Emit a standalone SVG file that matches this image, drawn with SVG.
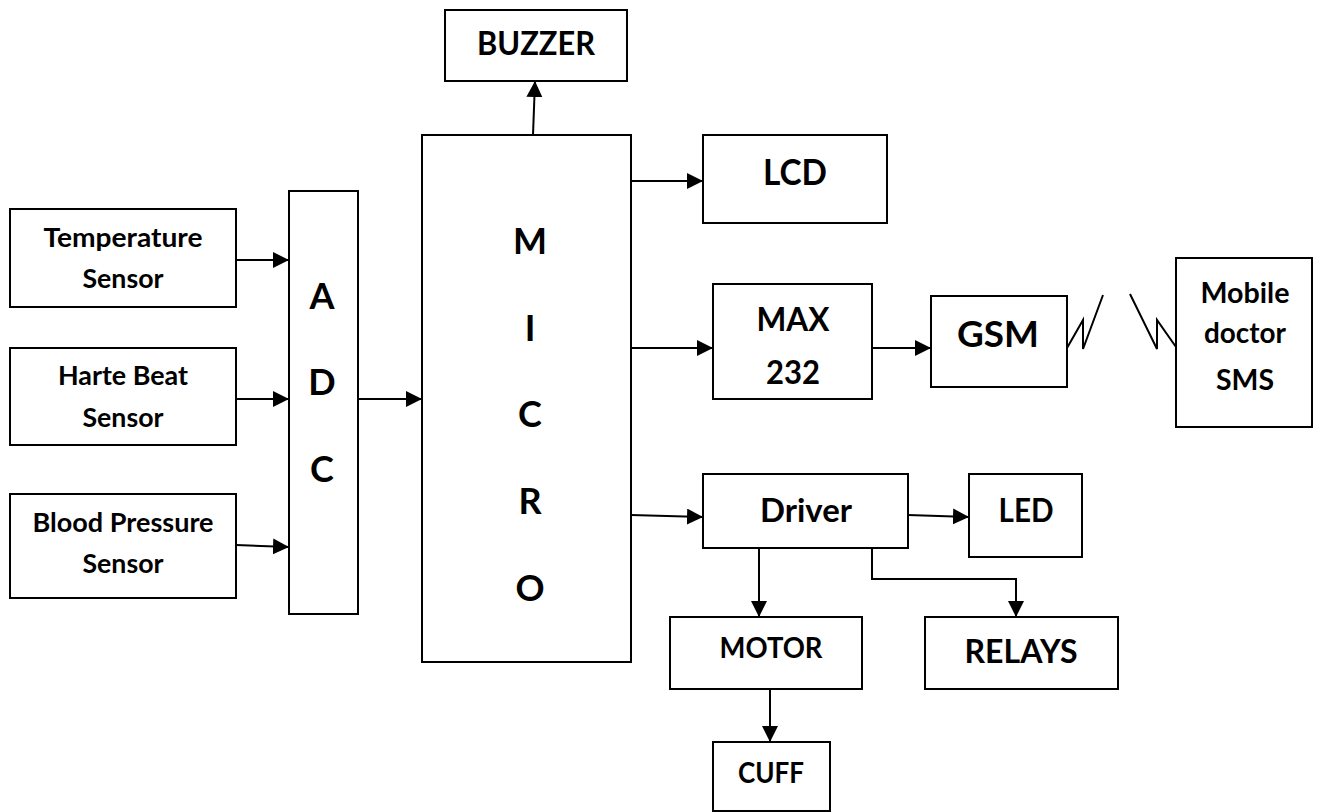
<svg xmlns="http://www.w3.org/2000/svg" width="1317" height="812" viewBox="0 0 1317 812">
<style>
rect{fill:#fff;stroke:#000;stroke-width:2}
text{font-family:Lato,"Open Sans","Liberation Sans",sans-serif;font-weight:bold;fill:#000;text-anchor:middle}
.c path,.c polyline,.c line{fill:none;stroke:#000;stroke-width:2}
.s{font-size:26px}.big{font-size:36px}.m{font-size:32px}.l{font-size:37px}.sm{font-size:28px}
</style>
<defs>
<marker id="ah" markerUnits="userSpaceOnUse" markerWidth="17" markerHeight="17" refX="16" refY="8" orient="auto">
<path d="M0,0 L16,8 L0,16 Z" fill="#000"/>
</marker>
</defs>
<rect x="0" y="0" width="1317" height="812" style="stroke:none"/>
<g id="temp"><rect x="10" y="209" width="226" height="98"/><text class="s" x="123" y="247" textLength="159" lengthAdjust="spacingAndGlyphs">Temperature</text><text class="s" x="123" y="288" textLength="81" lengthAdjust="spacingAndGlyphs">Sensor</text></g>
<g id="heart"><rect x="10" y="348" width="226" height="97"/><text class="s" x="123" y="385" textLength="130" lengthAdjust="spacingAndGlyphs">Harte Beat</text><text class="s" x="123" y="427" textLength="81" lengthAdjust="spacingAndGlyphs">Sensor</text></g>
<g id="bp"><rect x="10" y="494" width="226" height="104"/><text class="s" x="123" y="532" textLength="181" lengthAdjust="spacingAndGlyphs">Blood Pressure</text><text class="s" x="123" y="573" textLength="81" lengthAdjust="spacingAndGlyphs">Sensor</text></g>
<g id="adc"><rect x="289" y="191" width="69" height="423"/><text class="big" x="322" y="309">A</text><text class="big" x="322" y="395">D</text><text class="big" x="322" y="482">C</text></g>
<g id="micro"><rect x="422" y="135" width="209" height="527"/><text class="big" x="530" y="254">M</text><text class="big" x="530" y="341">I</text><text class="big" x="530" y="427">C</text><text class="big" x="530" y="514">R</text><text class="big" x="530" y="601">O</text></g>
<g id="buzzer"><rect x="445" y="10" width="182" height="71"/><text class="m" x="536" y="55" textLength="118" lengthAdjust="spacingAndGlyphs">BUZZER</text></g>
<g id="lcd"><rect x="703" y="135" width="184" height="88"/><text class="l" x="795" y="185" textLength="64" lengthAdjust="spacingAndGlyphs">LCD</text></g>
<g id="max232"><rect x="713" y="284" width="159" height="115"/><text class="m" x="793" y="331" textLength="73" lengthAdjust="spacingAndGlyphs">MAX</text><text class="m" x="793" y="384" textLength="54" lengthAdjust="spacingAndGlyphs">232</text></g>
<g id="gsm"><rect x="931" y="296" width="136" height="91"/><text class="l" x="998" y="347" textLength="82" lengthAdjust="spacingAndGlyphs">GSM</text></g>
<g id="mobile"><rect x="1176" y="258" width="136" height="169"/><text class="sm" x="1245" y="303" textLength="89" lengthAdjust="spacingAndGlyphs">Mobile</text><text class="sm" x="1245" y="343" textLength="82" lengthAdjust="spacingAndGlyphs">doctor</text><text class="sm" x="1245" y="390" textLength="58" lengthAdjust="spacingAndGlyphs">SMS</text></g>
<g id="driver"><rect x="703" y="474" width="205" height="74"/><text class="m" x="806" y="522" textLength="92" lengthAdjust="spacingAndGlyphs">Driver</text></g>
<g id="led"><rect x="969" y="474" width="113" height="83"/><text class="m" x="1026" y="522" textLength="55" lengthAdjust="spacingAndGlyphs">LED</text></g>
<g id="motor"><rect x="670" y="617" width="192" height="72"/><text class="sm" x="771" y="658" textLength="103" lengthAdjust="spacingAndGlyphs">MOTOR</text></g>
<g id="relays"><rect x="925" y="617" width="193" height="72"/><text class="m" x="1021" y="663" textLength="113" lengthAdjust="spacingAndGlyphs">RELAYS</text></g>
<g id="cuff"><rect x="713" y="742" width="117" height="69"/><text class="sm" x="771" y="783" textLength="66" lengthAdjust="spacingAndGlyphs">CUFF</text></g>
<g id="connectors" class="c">
<line x1="236" y1="260" x2="289" y2="260" marker-end="url(#ah)"/>
<line x1="236" y1="399" x2="289" y2="399" marker-end="url(#ah)"/>
<line x1="236" y1="545" x2="289" y2="547" marker-end="url(#ah)"/>
<line x1="358" y1="399" x2="422" y2="399" marker-end="url(#ah)"/>
<line x1="533" y1="135" x2="535" y2="81" marker-end="url(#ah)"/>
<line x1="631" y1="181" x2="703" y2="181" marker-end="url(#ah)"/>
<line x1="631" y1="348" x2="713" y2="348" marker-end="url(#ah)"/>
<line x1="872" y1="348" x2="931" y2="348" marker-end="url(#ah)"/>
<line x1="631" y1="515" x2="703" y2="517" marker-end="url(#ah)"/>
<line x1="908" y1="515" x2="969" y2="517" marker-end="url(#ah)"/>
<line x1="759" y1="548" x2="759" y2="617" marker-end="url(#ah)"/>
<polyline points="872,548 872,579 1016,579 1016,617" marker-end="url(#ah)"/>
<line x1="770" y1="689" x2="770" y2="742" marker-end="url(#ah)"/>
<polyline points="1067,348 1083,320 1083,349 1103,295"/>
<polyline points="1130,294 1157,349 1157,320 1176,347"/>
</g>
</svg>
